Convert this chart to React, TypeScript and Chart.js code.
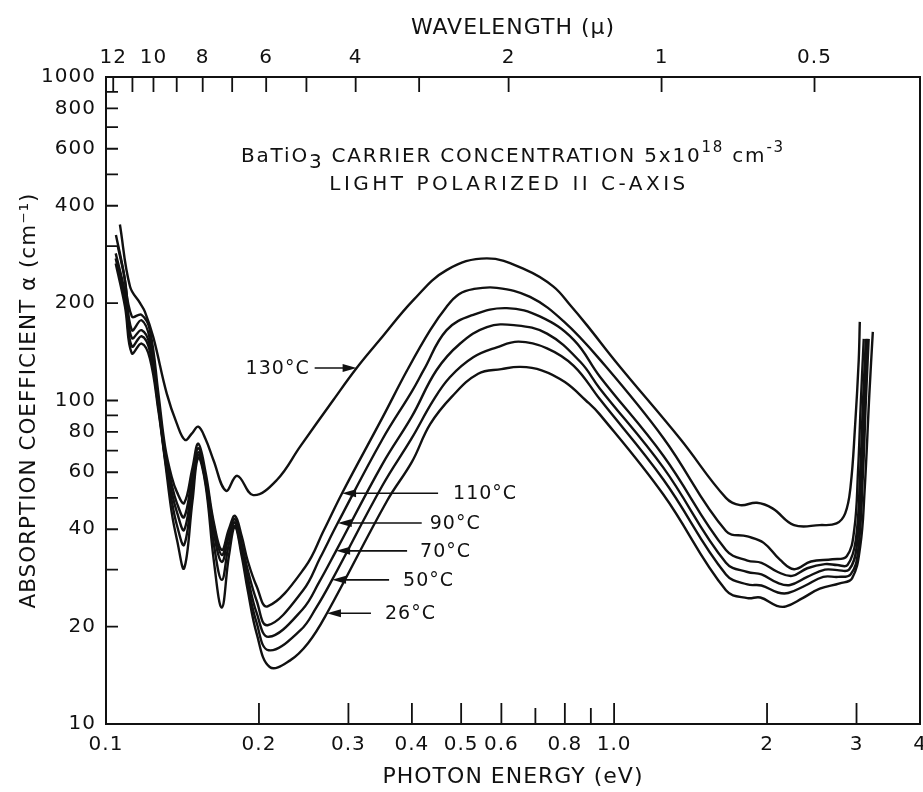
import React, { useEffect, useRef } from "react";
import { Chart, registerables } from "chart.js";

Chart.register(...registerables);

const FONT = '"DejaVu Sans", "Liberation Sans", sans-serif';
const INK = "#111111";

// ---- axis ticks ----
const energyTicks = [0.1, 0.2, 0.3, 0.4, 0.5, 0.6, 0.7, 0.8, 0.9, 1.0, 2, 3, 4];
const energyTickLabels = ["0.1", "0.2", "0.3", "0.4", "0.5", "0.6", "", "0.8", "", "1.0", "2", "3", "4"];
const alphaTicks = [10, 20, 30, 40, 50, 60, 70, 80, 90, 100, 200, 300, 400, 500, 600, 700, 800, 900, 1000];
const alphaTickLabels = ["10", "20", "", "40", "", "60", "", "80", "", "100", "200", "", "400", "", "600", "", "800", "", "1000"];
const wavelengthTicks = [12, 11, 10, 9, 8, 7, 6, 5, 4, 3, 2, 1, 0.5];
const wavelengthTickLabels = ["12", "", "10", "", "8", "", "6", "", "4", "", "2", "1", "0.5"];

// ---- series (photon energy eV, absorption coefficient cm^-1) ----
const curveNames = ["130°C", "110°C", "90°C", "70°C", "50°C", "26°C"];

const energy130 = [0.1065, 0.1115, 0.1167, 0.1193, 0.1239, 0.1317, 0.1378, 0.1431, 0.1475, 0.1519, 0.157, 0.1627, 0.1722, 0.1813, 0.1949, 0.2169, 0.241, 0.2797, 0.3114, 0.3459, 0.4034, 0.4681, 0.5618, 0.6721, 0.7597, 0.82, 0.884, 1.019, 1.35, 1.66, 1.77, 1.91, 2.05, 2.26, 2.54, 2.74, 2.85, 2.92, 2.98, 3.03, 3.045];
const alpha130 = [350, 225, 200, 188, 157, 105, 85, 75.5, 79, 83, 76, 65.5, 52.6, 58.5, 51, 56.8, 72, 100, 126, 154, 205, 253, 275, 253, 225, 197, 171, 129, 76, 50, 47.5, 48.3, 46.4, 41.2, 41.2, 41.7, 44.8, 54.2, 83, 133, 175];

const energy110 = [0.1046, 0.1081, 0.1124, 0.1175, 0.122, 0.1268, 0.1307, 0.1347, 0.138, 0.1425, 0.148, 0.1519, 0.157, 0.163, 0.169, 0.1745, 0.1794, 0.185, 0.19, 0.198, 0.208, 0.2464, 0.2684, 0.2915, 0.35, 0.3915, 0.4345, 0.4681, 0.495, 0.5281, 0.5876, 0.6834, 0.7949, 0.937, 1.25, 1.66, 1.83, 1.97, 2.12, 2.26, 2.44, 2.69, 2.87, 2.97, 3.02, 3.06, 3.1];
const alpha110 = [325, 254, 182, 184, 165, 105, 72, 58, 52, 48.2, 62, 73.5, 60, 42, 34.5, 40, 44, 38, 32, 26.6, 23.1, 30.5, 39.7, 51.7, 88.5, 124, 165, 195, 213, 221, 223, 209, 176, 134, 76.6, 39.5, 38, 36.3, 32.2, 30.1, 31.8, 32.3, 33, 40, 60, 100, 155];

const energy90 = [0.1055, 0.109, 0.1124, 0.1175, 0.122, 0.1268, 0.1307, 0.1347, 0.138, 0.1425, 0.148, 0.1519, 0.157, 0.163, 0.169, 0.1745, 0.1794, 0.185, 0.19, 0.198, 0.208, 0.2439, 0.2641, 0.2858, 0.35, 0.4, 0.4224, 0.4681, 0.5281, 0.615, 0.7159, 0.8329, 0.937, 1.25, 1.66, 1.83, 1.95, 2.1, 2.24, 2.4, 2.6, 2.75, 2.88, 2.99, 3.05, 3.09, 3.13];
const alpha90 = [300, 235, 165, 177, 155, 100, 69, 55, 48, 43.6, 59, 71.2, 58, 41, 33.3, 39, 43, 36, 30, 24, 20.2, 25.8, 32.7, 41.8, 75.9, 106.7, 124.5, 165, 184, 193, 181.6, 154, 118.7, 67.5, 34.5, 32, 31.5, 29.5, 28.7, 30.3, 31.2, 31, 31, 37, 60, 100, 155];

const energy70 = [0.1045, 0.109, 0.1124, 0.1175, 0.122, 0.1268, 0.1307, 0.1347, 0.138, 0.1425, 0.148, 0.1519, 0.157, 0.163, 0.169, 0.1745, 0.1794, 0.185, 0.19, 0.198, 0.209, 0.2436, 0.2629, 0.2837, 0.35, 0.4, 0.4471, 0.4979, 0.5618, 0.635, 0.7379, 0.8587, 0.937, 1.25, 1.66, 1.83, 1.95, 2.1, 2.22, 2.4, 2.6, 2.75, 2.9, 3.0, 3.07, 3.11, 3.15];
const alpha70 = [285, 215, 156, 165, 148, 97, 67, 52, 45, 39.8, 56, 69.2, 57, 39, 31.7, 38, 42, 35, 28.5, 22, 18.6, 22.6, 27.5, 34.3, 63.6, 89.3, 124, 150, 168.6, 171, 161, 131.5, 109, 62, 31.5, 29.5, 29, 27.3, 26.9, 28.5, 30, 29.9, 30, 35, 60, 100, 155];

const energy50 = [0.1045, 0.109, 0.1124, 0.1175, 0.122, 0.1268, 0.1307, 0.1347, 0.138, 0.1425, 0.148, 0.1519, 0.157, 0.163, 0.169, 0.1745, 0.1794, 0.185, 0.19, 0.198, 0.209, 0.2414, 0.2593, 0.2786, 0.35, 0.4, 0.44, 0.4751, 0.5281, 0.5876, 0.649, 0.7379, 0.8329, 0.937, 1.25, 1.66, 1.83, 1.95, 2.1, 2.2, 2.38, 2.58, 2.76, 2.92, 3.02, 3.09, 3.13, 3.17];
const alpha50 = [275, 205, 147, 158, 142, 95, 66, 49, 41, 35.8, 53, 67.9, 56, 36, 27.9, 36, 41, 34, 27, 20.5, 16.9, 19.5, 22.9, 27.9, 54.6, 76.6, 99.7, 118, 136, 146, 152, 145, 128, 101, 57, 29, 27, 26.8, 25.5, 25.4, 26.8, 28.5, 28.5, 29, 34, 60, 100, 155];

const energy26 = [0.1045, 0.109, 0.1124, 0.1175, 0.122, 0.1268, 0.1307, 0.1347, 0.138, 0.1425, 0.148, 0.1519, 0.157, 0.163, 0.169, 0.1745, 0.1794, 0.185, 0.19, 0.198, 0.21, 0.23, 0.25, 0.2722, 0.3575, 0.4, 0.4345, 0.48, 0.54, 0.6, 0.654, 0.72, 0.8, 0.88, 0.937, 1.25, 1.66, 1.83, 1.94, 2.09, 2.18, 2.35, 2.54, 2.78, 2.94, 3.05, 3.11, 3.18, 3.23];
const alpha26 = [265, 195, 140, 150, 135, 93, 65, 45, 37, 30.3, 49, 66.5, 55, 32, 22.9, 33, 40.5, 33, 26, 19, 15, 15.7, 17.8, 22, 49, 64.6, 84.5, 103, 121, 125, 127, 124, 114, 100, 90.6, 51.2, 25.9, 24.5, 24.6, 23.2, 23.1, 24.5, 26.2, 27.2, 28.2, 35.3, 51.7, 105, 163];

const curveEnergies = [energy130, energy110, energy90, energy70, energy50, energy26];
const curveAlphas = [alpha130, alpha110, alpha90, alpha70, alpha50, alpha26];

// curve-label arrow tips (data coordinates on each curve)
const labelTipEnergy = [0.3114, 0.2915, 0.2858, 0.2837, 0.2786, 0.2722];
const labelTipAlpha = [126, 51.7, 41.8, 34.3, 27.9, 22];

// ---- annotation layout (pixels) ----
const labelLayout = [
  { dir: 1, len: 42, gap: 5 },
  { dir: -1, len: 96, gap: 15 },
  { dir: -1, len: 84, gap: 8 },
  { dir: -1, len: 71, gap: 13 },
  { dir: -1, len: 57, gap: 14 },
  { dir: -1, len: 44, gap: 14 },
];

function labelFor(values: number[], labels: string[], v: number): string {
  for (let i = 0; i < values.length; i++) {
    if (Math.abs(values[i] - v) < 1e-6 * Math.max(1, v)) return labels[i];
  }
  return "";
}

type Seg = { text: string; size: number; dy: number };

function drawRich(ctx: CanvasRenderingContext2D, segs: Seg[], cx: number, y: number) {
  const widths = segs.map((s) => {
    ctx.font = `${s.size}px ${FONT}`;
    return ctx.measureText(s.text).width;
  });
  const total = widths.reduce((a, b) => a + b, 0);
  let x = cx - total / 2;
  segs.forEach((s, i) => {
    ctx.font = `${s.size}px ${FONT}`;
    ctx.fillText(s.text, x, y + s.dy);
    x += widths[i];
  });
}

const spacingPlugin = {
  id: "spacing",
  beforeDraw(chart: any) {
    (chart.ctx as any).letterSpacing = "1px";
  },
};

const framePlugin = {
  id: "frame",
  afterDatasetsDraw(chart: any) {
    const ctx: CanvasRenderingContext2D = chart.ctx;
    const a = chart.chartArea;
    const xs = chart.scales.x;
    const xt = chart.scales.xTop;
    const ys = chart.scales.y;
    ctx.save();
    ctx.strokeStyle = INK;
    ctx.fillStyle = INK;
    ctx.lineWidth = 2;
    ctx.strokeRect(a.left, a.top, a.right - a.left, a.bottom - a.top);

    // inward tick marks
    ctx.lineWidth = 1.8;
    ctx.beginPath();
    xs.ticks.forEach((t: any) => {
      const px = xs.getPixelForValue(t.value);
      const len = labelFor(energyTicks, energyTickLabels, t.value) ? 21 : 16;
      ctx.moveTo(px, a.bottom);
      ctx.lineTo(px, a.bottom - len);
    });
    xt.ticks.forEach((t: any) => {
      const px = xt.getPixelForValue(t.value);
      ctx.moveTo(px, a.top);
      ctx.lineTo(px, a.top + 15);
    });
    ys.ticks.forEach((t: any) => {
      const py = ys.getPixelForValue(t.value);
      ctx.moveTo(a.left, py);
      ctx.lineTo(a.left + 12, py);
    });
    ctx.stroke();

    // curve labels with arrows
    (ctx as any).letterSpacing = "1px";
    ctx.textBaseline = "middle";
    curveNames.forEach((name, i) => {
      const lay = labelLayout[i];
      const tx = xs.getPixelForValue(labelTipEnergy[i]);
      const ty = ys.getPixelForValue(labelTipAlpha[i]);
      const tail = tx - lay.dir * lay.len;
      ctx.lineWidth = 1.6;
      ctx.beginPath();
      ctx.moveTo(tail, ty);
      ctx.lineTo(tx - lay.dir * 10, ty);
      ctx.stroke();
      ctx.beginPath();
      ctx.moveTo(tx, ty);
      ctx.lineTo(tx - lay.dir * 14, ty - 4);
      ctx.lineTo(tx - lay.dir * 14, ty + 4);
      ctx.closePath();
      ctx.fill();
      ctx.font = `19px ${FONT}`;
      if (lay.dir > 0) {
        ctx.textAlign = "right";
        ctx.fillText(name, tail - lay.gap, ty + 1);
      } else {
        ctx.textAlign = "left";
        ctx.fillText(name, tail + lay.gap, ty + 1);
      }
    });

    // header text
    ctx.textAlign = "left";
    ctx.textBaseline = "alphabetic";
    const cx = (a.left + a.right) / 2;
    (ctx as any).letterSpacing = "1.8px";
    drawRich(
      ctx,
      [
        { text: "BaTiO", size: 20, dy: 0 },
        { text: "3", size: 20, dy: 6 },
        { text: " CARRIER CONCENTRATION 5x10", size: 20, dy: 0 },
        { text: "18", size: 15, dy: -10 },
        { text: " cm", size: 20, dy: 0 },
        { text: "-3", size: 15, dy: -10 },
      ],
      cx,
      a.top + 85
    );
    (ctx as any).letterSpacing = "3.5px";
    drawRich(ctx, [{ text: "LIGHT POLARIZED II C-AXIS", size: 20, dy: 0 }], cx - 4, a.top + 113);
    ctx.restore();
  },
};

export default function App() {
  const ref = useRef<HTMLCanvasElement | null>(null);

  useEffect(() => {
    document.body.style.margin = "0";
    const canvas = ref.current;
    if (!canvas) return;
    Chart.defaults.font.family = FONT;
    Chart.defaults.color = INK;

    const datasets = curveNames.map((name, i) => ({
      label: name,
      data: curveEnergies[i].map((e, j) => ({ x: e, y: curveAlphas[i][j] })),
      borderColor: INK,
      borderWidth: 2.4,
      pointRadius: 0,
      fill: false,
      tension: 0.4,
      xAxisID: "x",
      yAxisID: "y",
    }));

    const tickFont = { family: FONT, size: 20 };
    const titleFont = { family: FONT, size: 22 };
    const noGrid = { display: false, drawTicks: false };

    const chart = new Chart(canvas, {
      type: "line",
      data: { datasets },
      options: {
        responsive: false,
        animation: false,
        devicePixelRatio: 1,
        layout: { padding: { left: 0, right: 3, top: 0, bottom: 0 } },
        plugins: { legend: { display: false }, tooltip: { enabled: false } },
        scales: {
          x: {
            type: "logarithmic",
            position: "bottom",
            min: 0.1,
            max: 4,
            grid: noGrid,
            border: { display: false },
            afterBuildTicks: (s: any) => {
              s.ticks = energyTicks.map((v) => ({ value: v }));
            },
            afterFit: (s: any) => {
              s.height = 68;
              s.paddingLeft = 0;
              s.paddingRight = 0;
            },
            ticks: {
              autoSkip: false,
              maxRotation: 0,
              minRotation: 0,
              padding: 9,
              color: INK,
              font: tickFont,
              callback: (v: any) => labelFor(energyTicks, energyTickLabels, Number(v)),
            },
            title: {
              display: true,
              text: "PHOTON ENERGY (eV)",
              color: INK,
              font: titleFont,
              padding: { top: 0, bottom: 2 },
            },
          },
          xTop: {
            type: "logarithmic",
            position: "top",
            min: 0.1,
            max: 4,
            grid: noGrid,
            border: { display: false },
            afterBuildTicks: (s: any) => {
              s.ticks = wavelengthTicks.map((l) => ({ value: 1.24 / l }));
            },
            afterFit: (s: any) => {
              s.height = 77;
              s.paddingLeft = 0;
              s.paddingRight = 0;
            },
            ticks: {
              autoSkip: false,
              maxRotation: 0,
              minRotation: 0,
              padding: 7,
              color: INK,
              font: tickFont,
              callback: (v: any) =>
                labelFor(
                  wavelengthTicks.map((l) => 1.24 / l),
                  wavelengthTickLabels,
                  Number(v)
                ),
            },
            title: {
              display: true,
              text: "WAVELENGTH (μ)",
              color: INK,
              font: titleFont,
              padding: { top: 15, bottom: 0 },
            },
          },
          y: {
            type: "logarithmic",
            position: "left",
            min: 10,
            max: 1000,
            grid: noGrid,
            border: { display: false },
            afterBuildTicks: (s: any) => {
              s.ticks = alphaTicks.map((v) => ({ value: v }));
            },
            afterFit: (s: any) => {
              s.width = 106;
              s.paddingTop = 0;
              s.paddingBottom = 0;
            },
            ticks: {
              autoSkip: false,
              padding: 10,
              color: INK,
              font: tickFont,
              callback: (v: any) => labelFor(alphaTicks, alphaTickLabels, Number(v)),
            },
            title: {
              display: true,
              text: "ABSORPTION COEFFICIENT α (cm⁻¹)",
              color: INK,
              font: { family: FONT, size: 21.5 },
              padding: { top: 17, bottom: 0 },
            },
          },
        },
      } as any,
      plugins: [spacingPlugin, framePlugin],
    });

    return () => {
      chart.destroy();
    };
  }, []);

  return (
    <div style={{ width: 923, height: 792, background: "#fff" }}>
      <canvas ref={ref} width={923} height={792} style={{ display: "block" }} />
    </div>
  );
}
